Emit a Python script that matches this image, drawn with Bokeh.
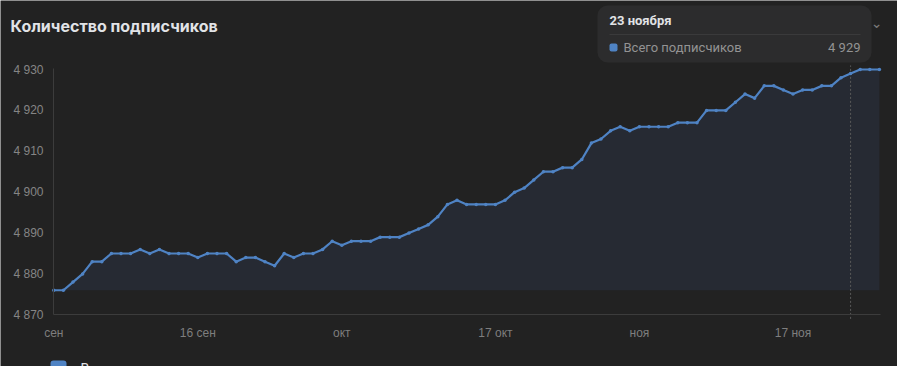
import numpy as np
import pandas as pd
from bokeh.plotting import figure
from bokeh.models import Range1d, FixedTicker, Label, BoxAnnotation
from bokeh.embed import file_html
from bokeh.resources import INLINE

# ---------------- data ----------------
start_date = "2023-09-01"
subscribers = [
    4876, 4876, 4878, 4880, 4883, 4883, 4885, 4885, 4885, 4886,
    4885, 4886, 4885, 4885, 4885, 4884, 4885, 4885, 4885, 4883,
    4884, 4884, 4883, 4882, 4885, 4884, 4885, 4885, 4886, 4888,
    4887, 4888, 4888, 4888, 4889, 4889, 4889, 4890, 4891, 4892,
    4894, 4897, 4898, 4897, 4897, 4897, 4897, 4898, 4900, 4901,
    4903, 4905, 4905, 4906, 4906, 4908, 4912, 4913, 4915, 4916,
    4915, 4916, 4916, 4916, 4916, 4917, 4917, 4917, 4920, 4920,
    4920, 4922, 4924, 4923, 4926, 4926, 4925, 4924, 4925, 4925,
    4926, 4926, 4928, 4929, 4930, 4930, 4930,
]
x_tick_dates = ["2023-09-01", "2023-09-16", "2023-10-01", "2023-10-17", "2023-11-01", "2023-11-17"]
x_tick_labels = ["сен", "16 сен", "окт", "17 окт", "ноя", "17 ноя"]
y_ticks = [4870, 4880, 4890, 4900, 4910, 4920, 4930]
title_text = "Количество подписчиков"
series_name = "Всего подписчиков"
hover_date = "2023-11-23"
hover_label = "23 ноября"

# ---------------- helpers ----------------
def fmt(v):
    return f"{int(v):,}".replace(",", " ")

W, H = 897, 366
base = pd.Timestamp(start_date)
x = np.arange(len(subscribers))
tick_pos = [(pd.Timestamp(d) - base).days for d in x_tick_dates]
hover_idx = (pd.Timestamp(hover_date) - base).days
baseline = [min(subscribers)] * len(subscribers)

# pixel layout of the chart area inside the full-canvas frame
PX_DAY = 9.6            # px per day
X0_PX = 53.3            # canvas x of first day
Y_BOTTOM_PX = 314.3     # canvas y of lowest tick
PX_UNIT = 4.088         # px per subscriber
x_start = -X0_PX / PX_DAY
x_end = x_start + W / PX_DAY
y_start = y_ticks[0] - (H - Y_BOTTOM_PX) / PX_UNIT
y_end = y_ticks[0] + Y_BOTTOM_PX / PX_UNIT
axis_x = -0.03
axis_x_end = len(subscribers) - 1 + 0.12

BG = "#222222"
LINE = "#4f83c4"
AXIS = "#3c3c3c"

p = figure(
    width=W, height=H,
    output_backend="svg", toolbar_location=None,
    x_range=Range1d(x_start, x_end),
    y_range=Range1d(y_start, y_end),
    min_border=0, min_border_left=0, min_border_right=0,
    min_border_top=0, min_border_bottom=0,
    background_fill_color=BG, border_fill_color=BG, outline_line_color=None,
)
p.grid.visible = False

# area + hover guide + line
p.varea(x=x, y1=baseline, y2=subscribers, fill_color="#262a33", fill_alpha=1.0)
p.segment(x0=[hover_idx], y0=[y_ticks[0] - 1], x1=[hover_idx], y1=[y_ticks[-1] + 1],
          line_color="#5a5a5a", line_dash="2 2", line_width=1)
p.line(x=x, y=subscribers, line_color=LINE, line_width=2.2, line_join="round")
p.scatter(x=x, y=subscribers, size=3.5, fill_color=LINE, line_color=None)

# axes (drawn at fixed locations inside the full-canvas frame)
p.xaxis.fixed_location = y_ticks[0]
p.xaxis.bounds = (axis_x, axis_x_end)
p.yaxis.fixed_location = axis_x
p.yaxis.bounds = (y_ticks[0], y_ticks[-1] + 0.3)
p.xaxis.ticker = FixedTicker(ticks=tick_pos)
p.xaxis.major_label_overrides = {float(t): l for t, l in zip(tick_pos, x_tick_labels)}
p.yaxis.ticker = FixedTicker(ticks=y_ticks)
p.yaxis.major_label_overrides = {float(t): fmt(t) for t in y_ticks}
for ax in (p.xaxis, p.yaxis):
    ax.axis_line_color = AXIS
    ax.axis_line_width = 1
    ax.major_tick_line_color = None
    ax.minor_tick_line_color = None
    ax.major_tick_out = 0
    ax.major_tick_in = 0
    ax.minor_tick_out = 0
    ax.minor_tick_in = 0
    ax.major_label_text_font = "Liberation Sans"
    ax.major_label_text_font_size = "12px"
p.xaxis.major_label_text_color = "#7e7e7e"
p.yaxis.major_label_text_color = "#858585"
p.xaxis.major_label_standoff = 11
p.yaxis.major_label_standoff = 10

def sy(wy):
    # window y (from top) -> screen units (from bottom of frame)
    return H - wy

def box(l, r, t, b, color, radius=0):
    p.add_layout(BoxAnnotation(left=l, right=r, top=sy(t), bottom=sy(b),
                               left_units="screen", right_units="screen",
                               top_units="screen", bottom_units="screen",
                               fill_color=color, fill_alpha=1.0, line_color=None,
                               border_radius=radius))

def label(xx, wy, text, size, color, bold=False, align="left", font="Roboto", baseline="middle"):
    p.add_layout(Label(x=xx, y=sy(wy), x_units="screen", y_units="screen", text=text,
                       text_font=font, text_font_style="bold" if bold else "normal",
                       text_font_size=size, text_color=color,
                       text_baseline=baseline, text_align=align))

# title
label(10, 25, title_text, "16px", "#e1e3e6", bold=True, font="Inter")

# tooltip
box(597, 871, 5, 62, "#2c2c2d", radius=10)
box(609, 860, 33.5, 34.5, "#3a3a3b")
box(609, 617, 43, 51, LINE, radius=2)
label(609, 20, hover_label, "13px", "#e1e3e6", bold=True)
label(623, 47, series_name, "13px", "#939393")
label(860, 47, fmt(subscribers[hover_idx]), "13px", "#939393", align="right")
label(876, 22, "⌄", "14px", "#7a7a7a", align="center", font="DejaVu Sans")

# legend (cut off by the bottom edge, as in the reference)
box(50, 66, 360, 376, LINE, radius=3)
label(80, 360, series_name, "14px", "#e1e3e6", baseline="top")

html = file_html(p, INLINE)
open("out.html", "w").write(html)
